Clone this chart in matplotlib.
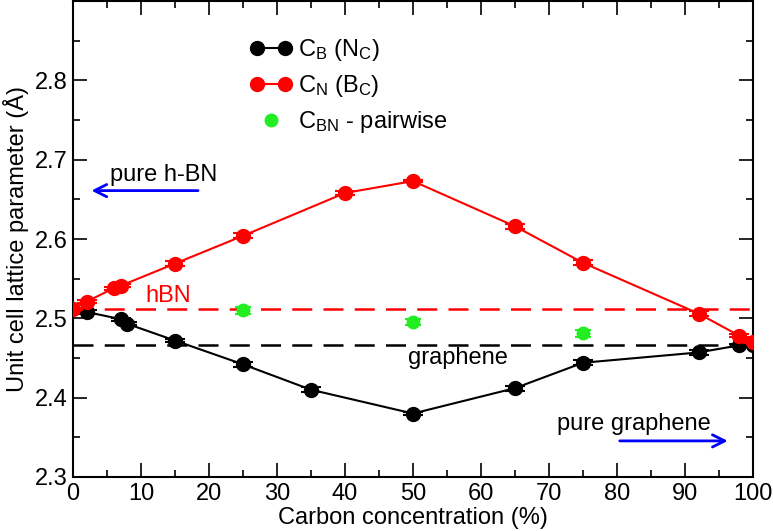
import matplotlib
matplotlib.use("Agg")
import matplotlib.pyplot as plt
from matplotlib.legend_handler import HandlerLine2D
from matplotlib.ticker import MultipleLocator

plt.rcParams["font.family"] = ["Liberation Sans", "DejaVu Sans"]
plt.rcParams["mathtext.fontset"] = "custom"
plt.rcParams["mathtext.rm"] = "Liberation Sans"
plt.rcParams["mathtext.default"] = "regular"

# C_B (N_C) substitution
cb_x = [2, 7, 8, 15, 25, 35, 50, 65, 75, 92, 98, 100]
cb_y = [2.508, 2.499, 2.493, 2.472, 2.442, 2.410, 2.380, 2.412, 2.444, 2.457, 2.466, 2.467]
cb_err = [0.002, 0.002, 0.002, 0.002, 0.003, 0.003, 0.002, 0.003, 0.003, 0.003, 0.002, 0.001]

# C_N (B_C) substitution
cn_x = [0, 2, 6, 7, 15, 25, 40, 50, 65, 75, 92, 98, 100]
cn_y = [2.512, 2.521, 2.538, 2.541, 2.569, 2.604, 2.658, 2.673, 2.616, 2.570, 2.506, 2.478, 2.470]
cn_err = [0.001, 0.002, 0.002, 0.002, 0.003, 0.003, 0.003, 0.001, 0.003, 0.003, 0.003, 0.002, 0.001]

# C_BN pairwise
pw_x = [25, 50, 75]
pw_y = [2.510, 2.495, 2.481]
pw_err = [0.004, 0.004, 0.004]

hbn_ref = 2.512
graphene_ref = 2.467

FS = 17

fig = plt.figure(figsize=(7.73, 5.31), dpi=100)
ax = fig.add_axes([0.0944, 0.1017, 0.8797, 0.8964])

ax.axhline(hbn_ref, color="red", lw=1.8, dashes=(8, 4.5), zorder=1)
ax.axhline(graphene_ref, color="black", lw=1.8, dashes=(8, 4.5), zorder=1)

ax.errorbar(cb_x, cb_y, yerr=cb_err, color="black", lw=1.5, marker="o", ms=10,
            capsize=7, capthick=1.5, elinewidth=1.5, zorder=3)
ax.errorbar(cn_x, cn_y, yerr=cn_err, color="red", lw=1.5, marker="o", ms=10,
            capsize=7, capthick=1.5, elinewidth=1.5, zorder=4)
ax.errorbar(pw_x, pw_y, yerr=pw_err, color="#22ee22", ls="none", marker="o", ms=9,
            capsize=6, capthick=1.5, elinewidth=1.5, zorder=3)

# legend proxies
h1, = ax.plot([], [], color="black", lw=1.5, marker="o", ms=10)
h2, = ax.plot([], [], color="red", lw=1.5, marker="o", ms=10)
h3, = ax.plot([], [], color="#22ee22", ls="none", marker="o", ms=9)
ax.legend([h1, h2, h3],
          [r"C$_B$ (N$_C$)", r"C$_N$ (B$_C$)", r"C$_{BN}$ - pairwise"],
          loc="upper left", bbox_to_anchor=(0.229, 0.968), frameon=False,
          fontsize=FS, numpoints=2, handlelength=1.79, handletextpad=0.25,
          labelspacing=0.42, handler_map={h3: HandlerLine2D(numpoints=1)})

ax.text(10.6, 2.528, "hBN", color="red", fontsize=FS, va="center", ha="left")
ax.text(49.3, 2.450, "graphene", color="black", fontsize=FS, va="center", ha="left")
ax.text(5.5, 2.681, "pure h-BN", fontsize=FS, va="center", ha="left")
ax.annotate("", xy=(2.3, 2.661), xytext=(18.8, 2.661),
            arrowprops=dict(arrowstyle="->", color="blue", lw=2, mutation_scale=22))
ax.text(93.8, 2.367, "pure graphene", fontsize=FS, va="center", ha="right")
ax.annotate("", xy=(96.7, 2.3455), xytext=(80, 2.3455),
            arrowprops=dict(arrowstyle="->", color="blue", lw=2, mutation_scale=22))

ax.set_xlim(0, 100)
ax.set_ylim(2.3, 2.9)
ax.xaxis.set_major_locator(MultipleLocator(10))
ax.xaxis.set_minor_locator(MultipleLocator(5))
ax.yaxis.set_minor_locator(MultipleLocator(0.05))
ax.set_yticks([2.3, 2.4, 2.5, 2.6, 2.7, 2.8])
ax.tick_params(which="both", direction="in", top=True, right=True, width=1.2)
ax.tick_params(which="major", length=10, labelsize=FS, pad=4)
ax.tick_params(which="minor", length=5)
for s in ax.spines.values():
    s.set_linewidth(1.5)

ax.set_xlabel("Carbon concentration (%)", fontsize=FS, labelpad=2)
ax.set_ylabel("Unit cell lattice parameter (Å)", fontsize=FS, labelpad=4)

fig.savefig("out.png", dpi=100)
